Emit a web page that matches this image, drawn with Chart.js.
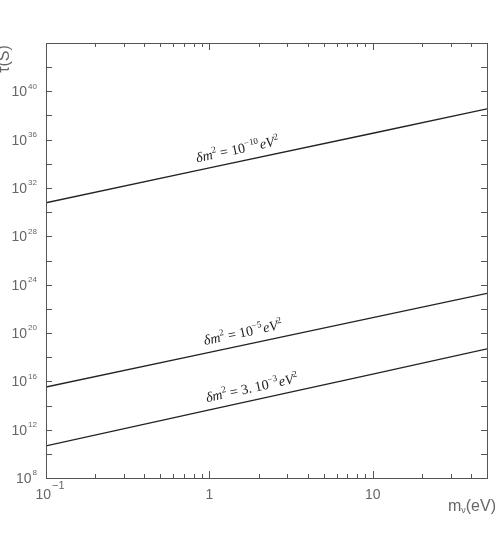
<!DOCTYPE html>
<html>
<head>
<meta charset="utf-8">
<script src="https://cdn.jsdelivr.net/npm/chart.js@4.4.1/dist/chart.umd.min.js"></script>
<style>
  html, body { margin: 0; padding: 0; background: #fff; }
  #wrap { width: 498px; height: 538px; }
</style>
</head>
<body>
<div id="wrap"><canvas id="myChart" width="498" height="538"></canvas></div>
<script>
// neutrino mass m_nu (eV)
var masses = [0.1, 1, 10, 50];
// lifetime tau (s) for each delta m^2
var tauDm2e10 = [6.0e30, 4.6e33, 3.4e36, 3.5e38];   // dm^2 = 1e-10 eV^2
var tauDm2e5 = [3.4e15, 2.5e18, 1.9e21, 1.9e23];    // dm^2 = 1e-5 eV^2
var tauDm2e3 = [4.6e10, 4.3e13, 4.0e16, 4.8e18];    // dm^2 = 3e-3 eV^2

// curve labels: prefix before "10", exponent of 10, where the label starts (m_nu)
var dm2Prefix = ["", "", "3. "];
var dm2Exp = ["\u221210", "\u22125", "\u22123"];
var labelAt = [0.86, 0.96, 0.99];

// axis ticks
var yTickExp = [8, 10, 12, 14, 16, 18, 20, 22, 24, 26, 28, 30, 32, 34, 36, 38, 40, 42, 44];
var yLabelExp = [8, 12, 16, 20, 24, 28, 32, 36, 40];
var xMajor = [0.1, 1, 10];
var xMinor = [0.2, 0.3, 0.4, 0.5, 0.6, 0.7, 0.8, 0.9, 2, 3, 4, 5, 6, 7, 8, 9, 20, 30, 40, 50];
var xLabelBase = ["10", "1", "10"];
var xLabelExp = ["\u22121", "", ""];

var series = [tauDm2e10, tauDm2e5, tauDm2e3];

function pts(ys) {
  return masses.map(function (m, i) { return { x: m, y: ys[i] }; });
}

var sans = '"Liberation Sans", Arial, sans-serif';
var serif = '"Liberation Serif", "Times New Roman", serif';

var framePlugin = {
  id: 'frame',
  afterDraw: function (chart) {
    var ctx = chart.ctx, a = chart.chartArea;
    var xs = chart.scales.x, ys = chart.scales.y;
    ctx.save();
    ctx.strokeStyle = '#555';
    ctx.lineWidth = 1;
    ctx.strokeRect(Math.round(a.left) + 0.5, Math.round(a.top) + 0.5,
      Math.round(a.right - a.left), Math.round(a.bottom - a.top));

    ctx.beginPath();
    // y ticks, left and right, pointing in
    yTickExp.forEach(function (e) {
      var py = Math.round(ys.getPixelForValue(Math.pow(10, e))) + 0.5;
      ctx.moveTo(a.left, py); ctx.lineTo(a.left + 6, py);
      ctx.moveTo(a.right, py); ctx.lineTo(a.right - 6, py);
    });
    // x ticks, bottom and top
    xMajor.forEach(function (v) {
      var px = Math.round(xs.getPixelForValue(v)) + 0.5;
      ctx.moveTo(px, a.bottom); ctx.lineTo(px, a.bottom - 7);
      ctx.moveTo(px, a.top); ctx.lineTo(px, a.top + 7);
    });
    xMinor.forEach(function (v) {
      var px = Math.round(xs.getPixelForValue(v)) + 0.5;
      ctx.moveTo(px, a.bottom); ctx.lineTo(px, a.bottom - 4);
      ctx.moveTo(px, a.top); ctx.lineTo(px, a.top + 4);
    });
    ctx.stroke();

    // y tick labels
    ctx.fillStyle = '#666';
    ctx.textBaseline = 'middle';
    yLabelExp.forEach(function (e) {
      var py = ys.getPixelForValue(Math.pow(10, e));
      ctx.font = '8px ' + sans;
      var ew = ctx.measureText(String(e)).width;
      ctx.textAlign = 'left';
      ctx.fillText(String(e), a.left - 9 - ew, py - 5);
      ctx.font = '14px ' + sans;
      ctx.textAlign = 'right';
      ctx.fillText('10', a.left - 10 - ew, py + 1);
    });

    // x tick labels
    xMajor.forEach(function (v, i) {
      var px = xs.getPixelForValue(v);
      ctx.font = '14px ' + sans;
      var bw = ctx.measureText(xLabelBase[i]).width;
      ctx.font = '11px ' + sans;
      var ew = xLabelExp[i] ? ctx.measureText(xLabelExp[i]).width + 1 : 0;
      var x0 = px - (bw + ew) / 2 + (xLabelExp[i] ? 4 : 0);
      ctx.textAlign = 'left';
      ctx.font = '14px ' + sans;
      ctx.fillText(xLabelBase[i], x0, a.bottom + 17);
      if (xLabelExp[i]) {
        ctx.font = '11px ' + sans;
        ctx.fillText(xLabelExp[i], x0 + bw + 1, a.bottom + 8);
      }
    });

    // axis titles
    ctx.fillStyle = '#666';
    ctx.font = '16px ' + sans;
    ctx.textAlign = 'right';
    ctx.fillText('(eV)', a.right + 9, a.bottom + 29);
    var tw = ctx.measureText('(eV)').width;
    ctx.font = '9px ' + sans;
    ctx.fillText('\u03bd', a.right + 9 - tw, a.bottom + 33);
    var nw = ctx.measureText('\u03bd').width;
    ctx.font = '16px ' + sans;
    ctx.fillText('m', a.right + 9 - tw - nw, a.bottom + 29);

    ctx.save();
    ctx.translate(5, 59);
    ctx.rotate(-Math.PI / 2);
    ctx.textAlign = 'center';
    ctx.fillText('\u03c4(S)', 0, 0);
    ctx.restore();

    // curve labels along each line
    ctx.fillStyle = '#222';
    ctx.textBaseline = 'alphabetic';
    ctx.textAlign = 'left';
    series.forEach(function (s, k) {
      var p0x = xs.getPixelForValue(masses[0]), p0y = ys.getPixelForValue(s[0]);
      var n = masses.length - 1;
      var p1x = xs.getPixelForValue(masses[n]), p1y = ys.getPixelForValue(s[n]);
      var ang = Math.atan2(p1y - p0y, p1x - p0x);
      var lx = xs.getPixelForValue(labelAt[k]);
      var ly = p0y + (lx - p0x) * Math.tan(ang);
      ctx.save();
      ctx.translate(lx, ly);
      ctx.rotate(ang);
      var x = 0, y = -8;
      function put(txt, font, dy) {
        ctx.font = font;
        ctx.fillText(txt, x, y + dy);
        x += ctx.measureText(txt).width;
      }
      put('\u03b4m', 'italic 14px ' + serif, 0);
      put('2', '9px ' + serif, -6);
      put(' = ' + dm2Prefix[k] + '10', '14px ' + serif, 0);
      put(dm2Exp[k], '9px ' + serif, -6);
      x += 1;
      put('eV', 'italic 14px ' + serif, 0);
      put('2', '9px ' + serif, -6);
      ctx.restore();
    });
    ctx.restore();
  }
};

var lineStyle = {
  borderColor: '#222',
  borderWidth: 1.3,
  pointRadius: 0,
  showLine: true,
  fill: false,
  tension: 0
};

var ctx = document.getElementById('myChart').getContext('2d');
var myChart = new Chart(ctx, {
  type: 'scatter',
  data: {
    datasets: [
      Object.assign({ label: 'dm2 = 1e-10', data: pts(tauDm2e10) }, lineStyle),
      Object.assign({ label: 'dm2 = 1e-5', data: pts(tauDm2e5) }, lineStyle),
      Object.assign({ label: 'dm2 = 3e-3', data: pts(tauDm2e3) }, lineStyle)
    ]
  },
  options: {
    responsive: false,
    animation: false,
    layout: { padding: { left: 46, top: 43, right: 11, bottom: 60 } },
    plugins: { legend: { display: false }, tooltip: { enabled: false } },
    scales: {
      x: { type: 'logarithmic', min: 0.1, max: 50, display: false },
      y: { type: 'logarithmic', min: 1e8, max: 1e44, display: false }
    }
  },
  plugins: [framePlugin]
});
</script>
</body>
</html>
